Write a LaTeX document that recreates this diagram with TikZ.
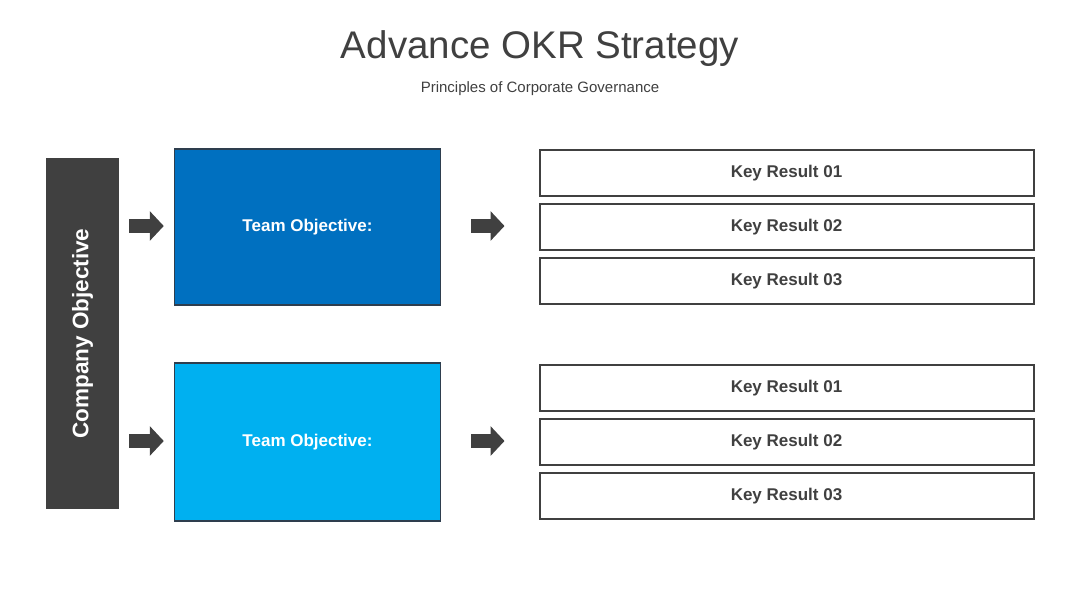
\documentclass[tikz,border=0pt]{standalone}
\usepackage{fontspec}
\setmainfont{Liberation Sans}
\usetikzlibrary{arrows.meta,calc}
\definecolor{dk}{HTML}{404040}
\definecolor{bluea}{HTML}{0070C0}
\definecolor{blueb}{HTML}{00B0F0}
\definecolor{edge}{HTML}{2E3E4E}
\begin{document}
\begin{tikzpicture}[x=1pt,y=-1pt,
  krbox/.style={draw=dk,line width=2pt,fill=white,minimum width=494pt,minimum height=46pt,inner sep=0pt,font=\fontsize{17}{19}\selectfont\bfseries,text=dk},
  teambox/.style={draw=edge,line width=1.5pt,minimum width=266pt,minimum height=156pt,inner sep=0pt,font=\fontsize{17}{19}\selectfont\bfseries,text=white},
  bigarrow/.style={draw=dk,line width=14pt,-{Triangle[length=14pt,width=29pt]}}]
\useasboundingbox (0,0) rectangle (1080,608);
\fill[white] (0,0) rectangle (1080,608);
\node[font=\fontsize{38.5}{42}\selectfont,text=dk] (title) at (540,49) {Advance OKR Strategy};
\node[font=\fontsize{15}{17}\selectfont,text=dk] (sub) at (540,89) {Principles of Corporate Governance};
\node[fill=dk,minimum width=73pt,minimum height=351pt,inner sep=0pt] (co) at (82.5,333.5) {};
\node[rotate=90,text=white,font=\fontsize{22.5}{25}\selectfont\bfseries] (cot) at (co.center) {Company Objective};
\node[teambox,fill=bluea] (t1) at (307.5,227) {Team Objective:};
\node[teambox,fill=blueb,minimum height=158pt] (t2) at (307.5,442) {Team Objective:};
\node[krbox] (k11) at (786.5,173) {Key Result 01};
\node[krbox] (k12) at (786.5,227) {Key Result 02};
\node[krbox] (k13) at (786.5,281) {Key Result 03};
\node[krbox] (k21) at (786.5,388) {Key Result 01};
\node[krbox] (k22) at (786.5,442) {Key Result 02};
\node[krbox] (k23) at (786.5,496) {Key Result 03};
\draw[bigarrow] ($(co.east|-t1.west)+(10,-1)$) -- ($(t1.west)+(-10,-1)$);
\draw[bigarrow] ($(co.east|-t2.west)+(10,-1)$) -- ($(t2.west)+(-10,-1)$);
\draw[bigarrow] ($(t1.east)+(30,-1)$) -- ($(k12.west|-t1.east)+(-34,-1)$);
\draw[bigarrow] ($(t2.east)+(30,-1)$) -- ($(k22.west|-t2.east)+(-34,-1)$);
\end{tikzpicture}
\end{document}
